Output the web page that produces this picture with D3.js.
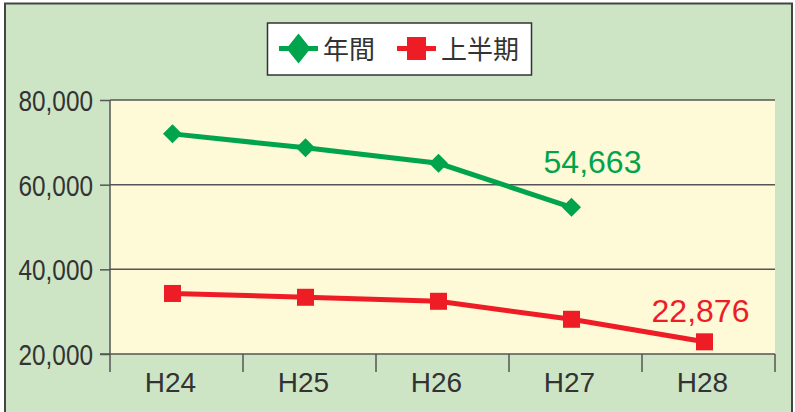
<!DOCTYPE html>
<html>
<head>
<meta charset="utf-8">
<script src="https://cdn.jsdelivr.net/npm/d3@7"></script>
<style>
  html, body { margin: 0; padding: 0; background: #fff; }
  svg { display: block; }
</style>
</head>
<body>
<svg id="chart" width="795" height="412"></svg>
<script>
// categories and series
const years = ['H24', 'H25', 'H26', 'H27', 'H28'];
const annual = [72000, 68700, 65050, 54663, null];   // 年間
const firstHalf = [34300, 33400, 32450, 28200, 22876]; // 上半期
const yTicks = [20000, 40000, 60000, 80000];
const seriesNames = ['年間', '上半期'];

const GREEN = '#00a44c';
const RED = '#ee1c25';
const TEXT = '#333';

const svg = d3.select('#chart');

// background + frame
svg.append('rect')
  .attr('x', 5).attr('y', 3.5)
  .attr('width', 787).attr('height', 420)
  .attr('fill', '#cde5c5')
  .attr('stroke', '#444').attr('stroke-width', 2);

const plot = {left: 110, right: 775, top: 100, bottom: 354};

const x = d3.scaleBand().domain(years).range([plot.left, plot.right]);
const y = d3.scaleLinear().domain([20000, 80000]).range([plot.bottom, plot.top]);
const cx = d => x(d) + x.bandwidth() / 2 - 4;

svg.append('rect')
  .attr('x', plot.left).attr('y', plot.top)
  .attr('width', plot.right - plot.left).attr('height', plot.bottom - plot.top)
  .attr('fill', '#fef9d6');

// grid lines
svg.append('g').selectAll('line')
  .data(yTicks.slice(1))
  .join('line')
  .attr('x1', plot.left).attr('x2', plot.right)
  .attr('y1', d => y(d)).attr('y2', d => y(d))
  .attr('stroke', '#555').attr('stroke-width', 1.5);

// y axis
const yAxis = svg.append('g')
  .attr('transform', `translate(${plot.left},0)`)
  .call(d3.axisLeft(y).tickValues(yTicks).tickSize(10).tickFormat(d3.format(',')));
yAxis.select('.domain').remove();
yAxis.selectAll('line').attr('stroke', '#555').attr('stroke-width', 1.5);
yAxis.selectAll('text')
  .attr('x', -17 / 0.84)
  .attr('dy', '0.36em')
  .attr('transform', 'scale(0.84,1)')
  .attr('fill', TEXT)
  .style('font-family', '"Liberation Sans", Arial, sans-serif')
  .style('font-size', '29px');

// left axis line (runs down to the x tick length)
svg.append('line')
  .attr('x1', plot.left).attr('x2', plot.left)
  .attr('y1', plot.top).attr('y2', plot.bottom + 18)
  .attr('stroke', '#555').attr('stroke-width', 1.5);

// x axis
const xAxis = svg.append('g')
  .attr('transform', `translate(0,${plot.bottom})`)
  .call(d3.axisBottom(x).tickSize(0));
xAxis.select('.domain').remove();
xAxis.selectAll('text')
  .attr('x', -6)
  .attr('y', 38)
  .attr('dy', 0)
  .attr('fill', TEXT)
  .style('font-family', '"Liberation Sans", Arial, sans-serif')
  .style('font-size', '28px');

svg.append('line')
  .attr('x1', plot.left - 10).attr('x2', plot.right)
  .attr('y1', plot.bottom).attr('y2', plot.bottom)
  .attr('stroke', '#555').attr('stroke-width', 1.5);

const bounds = years.map(d => x(d) + x.bandwidth());
svg.append('g').selectAll('line')
  .data(bounds)
  .join('line')
  .attr('x1', d => d).attr('x2', d => d)
  .attr('y1', plot.bottom).attr('y2', plot.bottom + 18)
  .attr('stroke', '#555').attr('stroke-width', 1.5);

// series
const line = d3.line()
  .defined(d => d.v != null)
  .x(d => cx(d.k))
  .y(d => y(d.v));

const annualPts = years.map((k, i) => ({k, v: annual[i]})).filter(d => d.v != null);
const halfPts = years.map((k, i) => ({k, v: firstHalf[i]}));

svg.append('path')
  .datum(annualPts)
  .attr('d', line)
  .attr('fill', 'none').attr('stroke', GREEN).attr('stroke-width', 5);

svg.append('g').selectAll('path')
  .data(annualPts)
  .join('path')
  .attr('d', 'M0,-9.5L9.5,0L0,9.5L-9.5,0Z')
  .attr('transform', d => `translate(${cx(d.k)},${y(d.v)})`)
  .attr('fill', GREEN);

svg.append('path')
  .datum(halfPts)
  .attr('d', line)
  .attr('fill', 'none').attr('stroke', RED).attr('stroke-width', 5);

svg.append('g').selectAll('rect')
  .data(halfPts)
  .join('rect')
  .attr('x', d => cx(d.k) - 8.5).attr('y', d => y(d.v) - 8.5)
  .attr('width', 17).attr('height', 17)
  .attr('fill', RED);

// value callouts
const fmt = d3.format(',');
svg.append('text')
  .attr('x', cx('H27') + 21).attr('y', 173)
  .attr('text-anchor', 'middle')
  .attr('fill', GREEN)
  .style('font-family', '"Liberation Sans", Arial, sans-serif')
  .style('font-size', '32px')
  .text(fmt(annual[3]));

svg.append('text')
  .attr('x', cx('H28') - 4).attr('y', 322)
  .attr('text-anchor', 'middle')
  .attr('fill', RED)
  .style('font-family', '"Liberation Sans", Arial, sans-serif')
  .style('font-size', '32px')
  .text(fmt(firstHalf[4]));

// legend
const legend = svg.append('g');
legend.append('rect')
  .attr('x', 267.5).attr('y', 23)
  .attr('width', 264).attr('height', 52)
  .attr('fill', '#fff').attr('stroke', '#333').attr('stroke-width', 1.5);

const items = [
  {name: seriesNames[0], color: GREEN, x0: 279, shape: 'diamond'},
  {name: seriesNames[1], color: RED, x0: 397, shape: 'square'}
];
items.forEach(it => {
  const ly = 48.5;
  legend.append('line')
    .attr('x1', it.x0).attr('x2', it.x0 + 39)
    .attr('y1', ly).attr('y2', ly)
    .attr('stroke', it.color).attr('stroke-width', 5);
  const mx = it.x0 + 19.5;
  if (it.shape === 'diamond') {
    legend.append('path')
      .attr('d', `M${mx},${ly - 15}L${mx + 12},${ly}L${mx},${ly + 15}L${mx - 12},${ly}Z`)
      .attr('fill', it.color);
  } else {
    legend.append('rect')
      .attr('x', mx - 9.5).attr('y', ly - 11.5)
      .attr('width', 19).attr('height', 23)
      .attr('fill', it.color);
  }
  legend.append('text')
    .attr('x', it.x0 + 44).attr('y', ly + 10)
    .attr('fill', TEXT)
    .style('font-family', '"Noto Sans CJK JP", sans-serif')
    .style('font-size', '26px')
    .text(it.name);
});
</script>
</body>
</html>
